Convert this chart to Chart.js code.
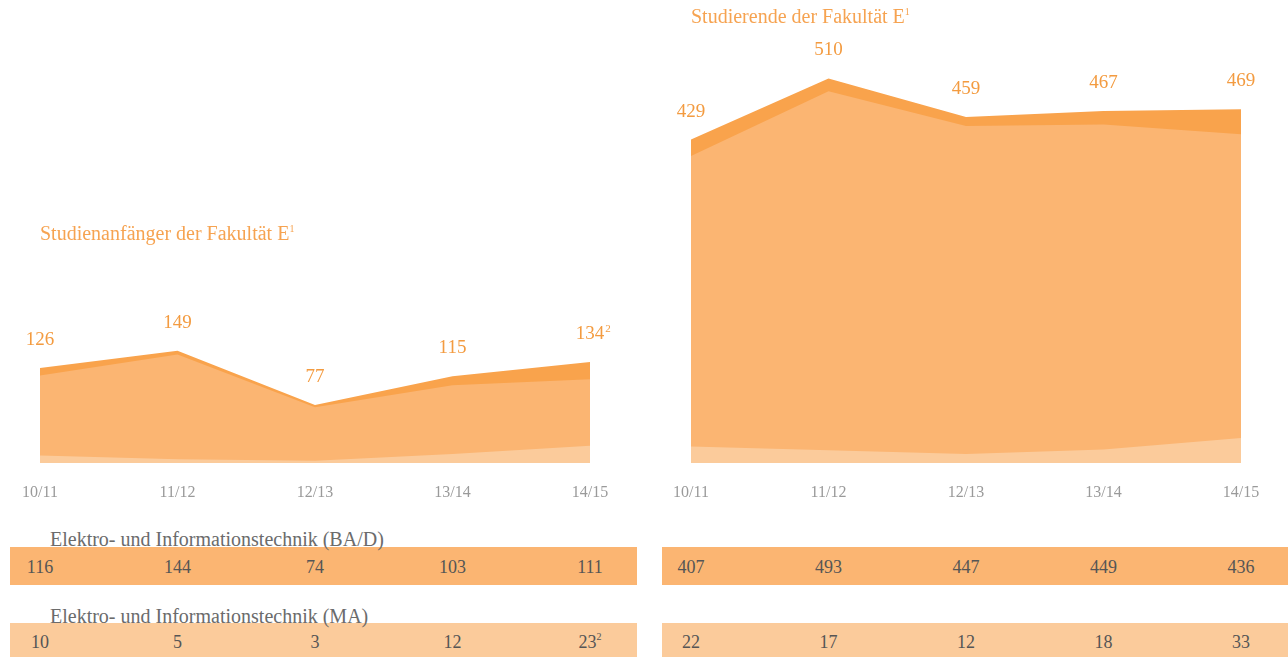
<!DOCTYPE html>
<html>
<head>
<meta charset="utf-8">
<script src="https://cdn.jsdelivr.net/npm/chart.js@4"></script>
<style>
  body { margin: 0; background: #fff; font-family: "Liberation Serif", serif; }
  #page { position: relative; width: 1288px; height: 657px; overflow: hidden; }
  canvas { position: absolute; top: 0; }
  .title { position: absolute; color: #f6a351; font-size: 20px; white-space: nowrap; }
  .title sup, .num sup { font-size: 10px; vertical-align: 8px; line-height: 0; }
  .band { position: absolute; }
  .rowlabel { position: absolute; color: #6b6b6b; font-size: 20px; white-space: nowrap; }
  .num { position: absolute; color: #555; font-size: 18px; transform: translateX(-50%); white-space: nowrap; }
</style>
</head>
<body>
<div id="page">
  <canvas id="chartAnf" width="640" height="520" style="left:0"></canvas>
  <canvas id="chartStud" width="638" height="520" style="left:650px"></canvas>
  <div class="title" style="left:40px; top:222px">Studienanfänger der Fakultät E<sup>1</sup></div>
  <div class="title" style="left:691px; top:5px">Studierende der Fakultät E<sup>1</sup></div>
</div>
<script>
// Semester
const semester = ['10/11', '11/12', '12/13', '13/14', '14/15'];

// Studienanfänger
const anfGesamt = [126, 149, 77, 115, 134];
const anfBA = [116, 144, 74, 103, 111];
const anfMA = [10, 5, 3, 12, 23];
const anfFussnote = ['', '', '', '', '2'];

// Studierende
const studGesamt = [429, 510, 459, 467, 469];
const studBA = [407, 493, 447, 449, 436];
const studMA = [22, 17, 12, 18, 33];
const studFussnote = ['', '', '', '', ''];

const farbeDunkel = '#f9a34c';
const farbeMittel = '#fbb572';
const farbeHell = '#fbcb9b';

// Zahlen über den Flächen und Semester unter der Achse
const beschriftung = {
  id: 'beschriftung',
  afterDatasetsDraw(chart, args, opts) {
    const ctx = chart.ctx;
    const x = chart.scales.x;
    const y = chart.scales.y;
    ctx.save();
    ctx.textAlign = 'center';
    ctx.textBaseline = 'middle';
    opts.werte.forEach((v, i) => {
      const px = x.getPixelForValue(i);
      const py = y.getPixelForValue(v) - 28;
      ctx.fillStyle = '#f39b40';
      ctx.font = '19px "Liberation Serif"';
      ctx.fillText(v, px, py);
      if (opts.fussnote[i]) {
        const w = ctx.measureText(String(v)).width;
        ctx.font = '11px "Liberation Serif"';
        ctx.textAlign = 'left';
        ctx.fillText(opts.fussnote[i], px + w / 2 + 1, py - 5);
        ctx.textAlign = 'center';
      }
      ctx.fillStyle = '#9a9a9a';
      ctx.font = '16px "Liberation Serif"';
      ctx.fillText(semester[i], px, chart.chartArea.bottom + 30);
    });
    ctx.restore();
  }
};

function flaechenChart(id, gesamt, ba, ma, fussnote, pad) {
  return new Chart(document.getElementById(id), {
    type: 'line',
    data: {
      labels: semester,
      datasets: [
        { label: 'MA', data: ma, backgroundColor: farbeHell, fill: 'origin' },
        { label: 'BA/D', data: ba, backgroundColor: farbeMittel, fill: 'origin' },
        { label: 'Gesamt', data: gesamt, backgroundColor: farbeDunkel, fill: 'origin' }
      ]
    },
    options: {
      responsive: false,
      animation: false,
      elements: { point: { radius: 0 }, line: { borderWidth: 0, tension: 0 } },
      layout: { padding: pad },
      scales: {
        x: { display: false },
        y: { display: false, min: 0, max: 600 }
      },
      plugins: {
        legend: { display: false },
        tooltip: { enabled: false },
        beschriftung: { werte: gesamt, fussnote: fussnote }
      }
    },
    plugins: [beschriftung]
  });
}

const cAnf = flaechenChart('chartAnf', anfGesamt, anfBA, anfMA, anfFussnote,
  { left: 40, right: 50, top: 10.6, bottom: 57 });
const cStud = flaechenChart('chartStud', studGesamt, studBA, studMA, studFussnote,
  { left: 41, right: 47, top: 10.6, bottom: 57 });

// Tabellen unter den Diagrammen
const page = document.getElementById('page');
function el(cls, style, html) {
  const d = document.createElement('div');
  d.className = cls;
  d.setAttribute('style', style);
  d.innerHTML = html;
  page.appendChild(d);
}
el('band', 'left:10px; top:547px; width:627px; height:38px; background:' + farbeMittel, '');
el('band', 'left:662px; top:547px; width:626px; height:38px; background:' + farbeMittel, '');
el('band', 'left:10px; top:623px; width:627px; height:34px; background:' + farbeHell, '');
el('band', 'left:662px; top:623px; width:626px; height:34px; background:' + farbeHell, '');
el('rowlabel', 'left:50px; top:528px', 'Elektro- und Informationstechnik (BA/D)');
el('rowlabel', 'left:50px; top:605px', 'Elektro- und Informationstechnik (MA)');

function tabellenZeile(chart, offset, werte, fussnote, top) {
  const x = chart.scales.x;
  werte.forEach((v, i) => {
    const px = offset + x.getPixelForValue(i);
    const sup = fussnote[i] ? '<sup>' + fussnote[i] + '</sup>' : '';
    el('num', 'left:' + px + 'px; top:' + top + 'px', v + sup);
  });
}
tabellenZeile(cAnf, 0, anfBA, ['', '', '', '', ''], 557);
tabellenZeile(cAnf, 0, anfMA, anfFussnote, 632);
tabellenZeile(cStud, 650, studBA, ['', '', '', '', ''], 557);
tabellenZeile(cStud, 650, studMA, studFussnote, 632);
</script>
</body>
</html>
